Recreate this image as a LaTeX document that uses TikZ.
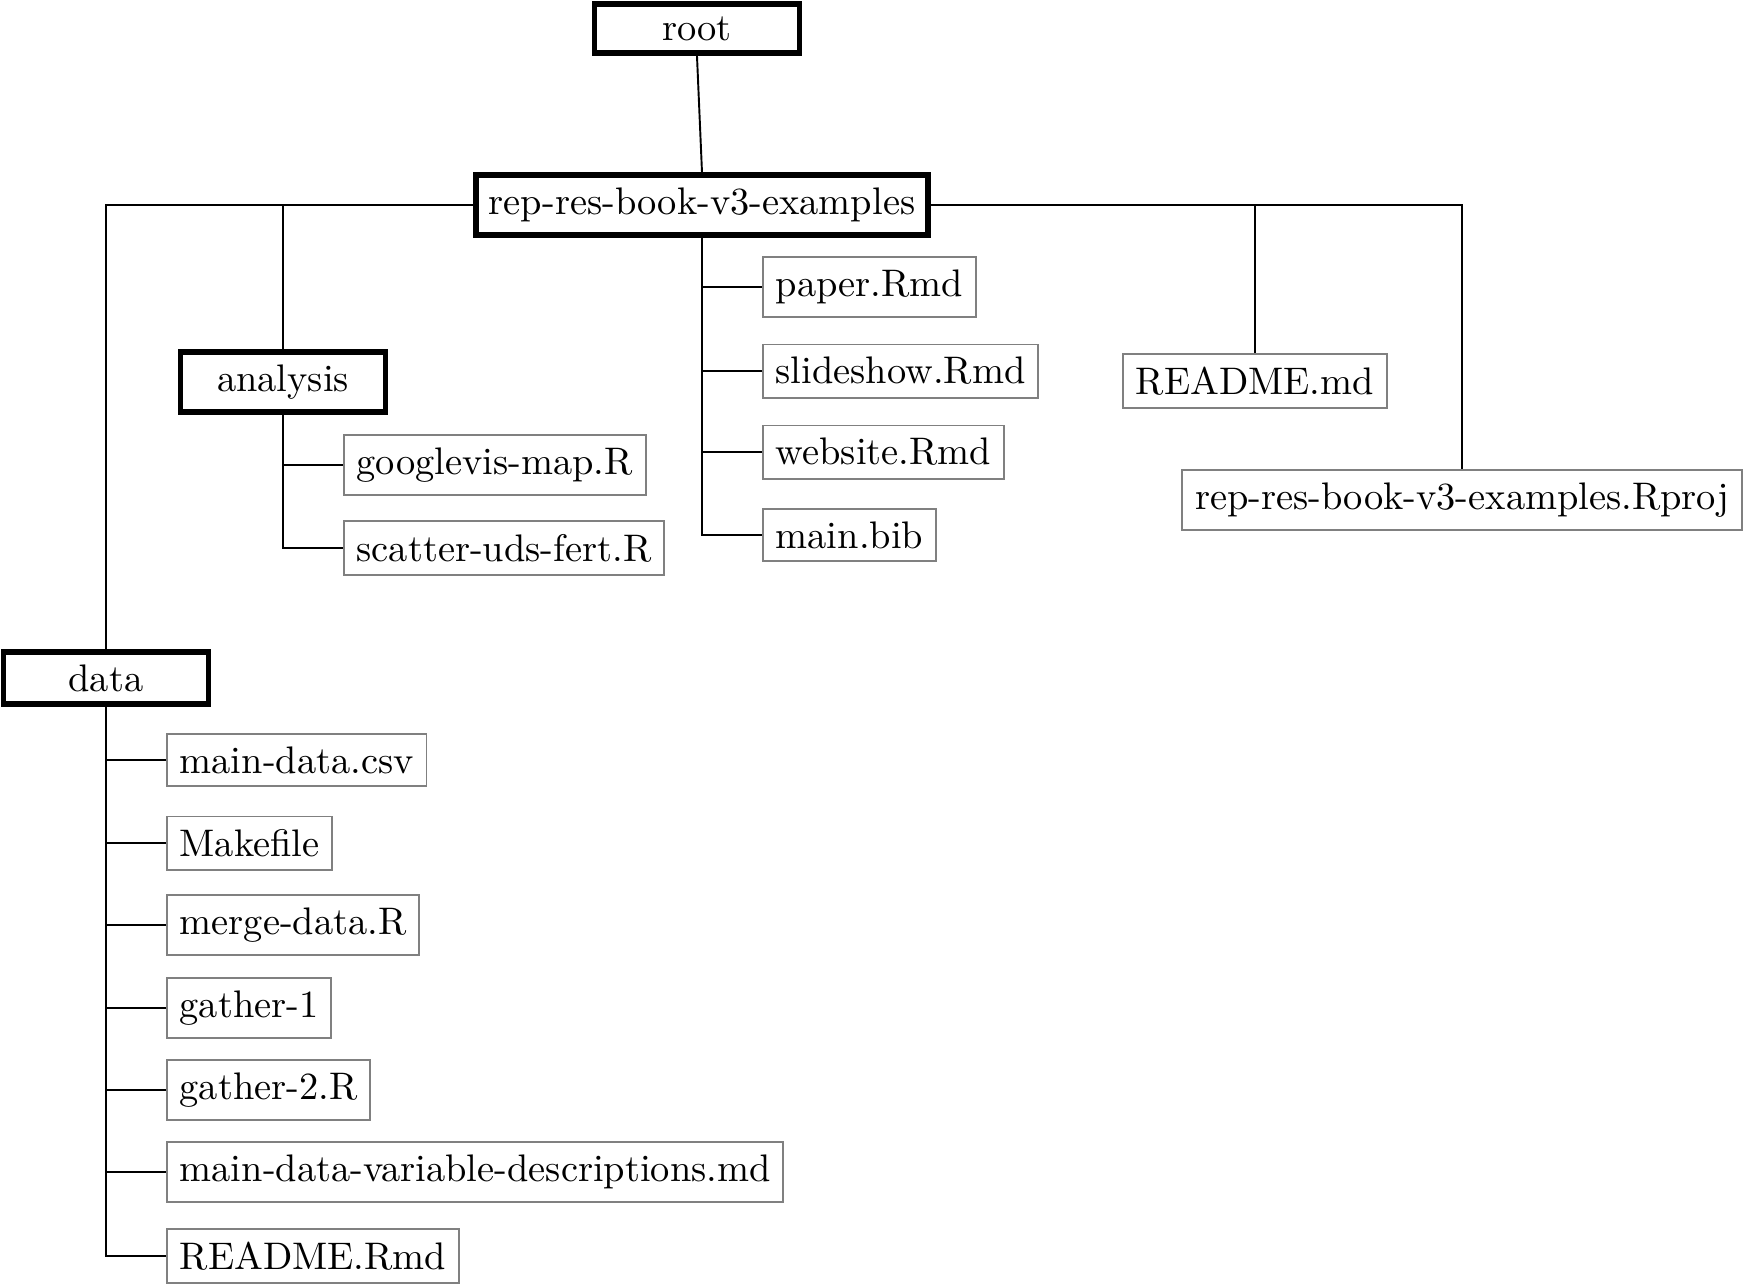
\documentclass[tikz,border=0pt]{standalone}
\begin{document}
\begin{tikzpicture}[x=0.2603pt,y=-0.2603pt,
  dirbox/.style={draw=black,line width=1.5pt,inner sep=3.33pt,minimum width=53.4pt},
  filebox/.style={draw=black!50,line width=0.5pt,inner sep=3.33pt,anchor=west},
  link/.style={draw=black,line width=0.5pt}]
\useasboundingbox (0,0) rectangle (1745,1284);

% directories
\node[dirbox] (root) at (697,28.5) {root};
\node[dirbox] (rep) at (702,205) {rep-res-book-v3-examples};
\node[dirbox] (analysis) at (283,382) {analysis};
\node[dirbox] (data) at (106,678) {data};

% files directly in the project folder
\node[filebox] (paper) at (762,287) {paper.Rmd};
\node[filebox] (slides) at (762,371) {slideshow.Rmd};
\node[filebox] (website) at (762,452) {website.Rmd};
\node[filebox] (bib) at (762,535) {main.bib};
\node[filebox,anchor=center] (readme) at (1255,381) {README.md};
\node[filebox,anchor=center] (rproj) at (1462,500) {rep-res-book-v3-examples.Rproj};

% analysis files
\node[filebox] (gmap) at (343,465) {googlevis-map.R};
\node[filebox] (scatter) at (343,548) {scatter-uds-fert.R};

% data files
\node[filebox] (mdcsv) at (166,760) {main-data.csv};
\node[filebox] (make) at (166,843) {Makefile};
\node[filebox] (merge) at (166,925) {merge-data.R};
\node[filebox] (g1) at (166,1008) {gather-1};
\node[filebox] (g2) at (166,1090) {gather-2.R};
\node[filebox] (mdvar) at (166,1172) {main-data-variable-descriptions.md};
\node[filebox] (rrmd) at (166,1256) {README.Rmd};

% connectors
\draw[link] (root.south) -- (rep.north);
\draw[link] (rep.west) -| (data.north);
\draw[link] (rep.west) -| (analysis.north);
\draw[link] (rep.east) -| (readme.north);
\draw[link] (rep.east) -| (rproj.north);
\foreach \f in {paper,slides,website,bib}
  \draw[link] (rep.south) |- (\f.west);
\foreach \f in {gmap,scatter}
  \draw[link] (analysis.south) |- (\f.west);
\foreach \f in {mdcsv,make,merge,g1,g2,mdvar,rrmd}
  \draw[link] (data.south) |- (\f.west);
\end{tikzpicture}
\end{document}
